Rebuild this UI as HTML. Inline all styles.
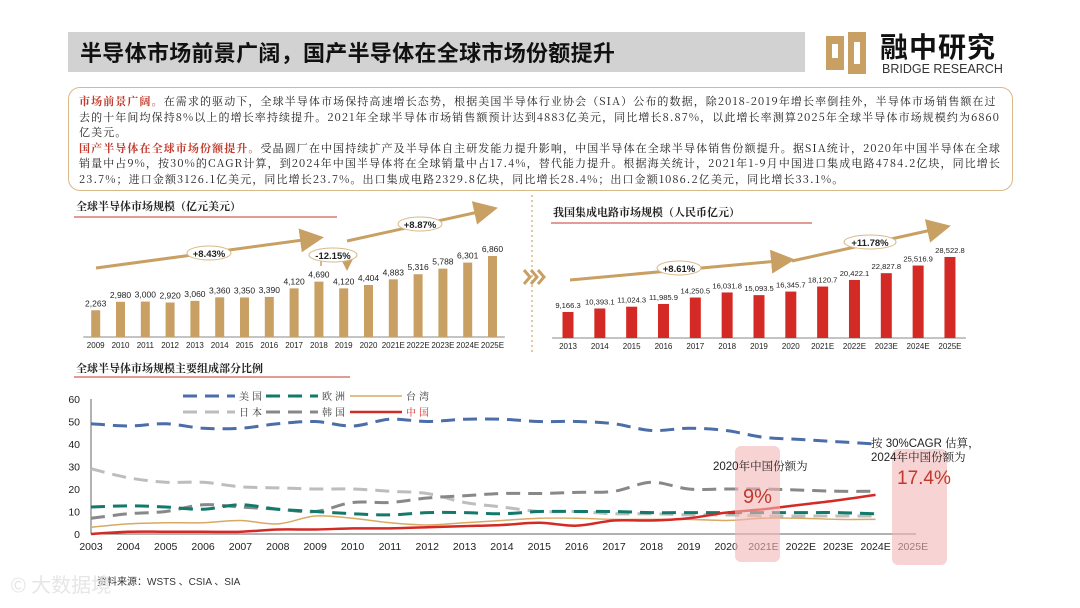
<!DOCTYPE html>
<html><head><meta charset="utf-8">
<style>
body{margin:0;width:1080px;height:608px;background:#fff;position:relative;overflow:hidden;font-family:"Liberation Sans","Noto Sans CJK SC",sans-serif;}
.abs{position:absolute;}
#titlebar{left:68px;top:32px;width:737px;height:40px;background:#d2d2d2;}
#titlebar span{position:absolute;left:12px;top:4px;font-size:22px;font-weight:bold;color:#111;font-family:"Noto Sans CJK SC",sans-serif;letter-spacing:0.3px;}
#textbox{left:68px;top:87px;width:945px;height:104px;border:1px solid #d8b98a;border-radius:12px;font-size:11px;letter-spacing:1.1px;line-height:15.6px;color:#222;font-family:"Noto Serif CJK SC","Noto Sans CJK SC",serif;padding:6px 8px 0 10px;box-sizing:border-box;}
#textbox b{color:#c0392b;}
</style></head><body>
<div id="titlebar" class="abs"><span>半导体市场前景广阔，国产半导体在全球市场份额提升</span></div>
<div class="abs" style="left:824px;top:30px;width:190px;height:48px;">
<svg width="46" height="46"><rect x="2" y="6" width="18" height="34" fill="#c9a063"/><rect x="24" y="2" width="18" height="42" fill="#c9a063"/><rect x="8" y="14" width="6" height="14" fill="#fff"/><rect x="30" y="12" width="6" height="22" fill="#fff"/></svg>
<div class="abs" style="left:56px;top:-4px;font-size:28px;font-weight:bold;color:#111;font-family:'Noto Sans CJK SC',sans-serif;letter-spacing:1px;">融中研究</div>
<div class="abs" style="left:58px;top:32px;font-size:12.5px;color:#333;">BRIDGE RESEARCH</div>
</div>
<div id="textbox" class="abs"><b>市场前景广阔。</b>在需求的驱动下，全球半导体市场保持高速增长态势，根据美国半导体行业协会（SIA）公布的数据，除2018-2019年增长率倒挂外，半导体市场销售额在过去的十年间均保持8%以上的增长率持续提升。2021年全球半导体市场销售额预计达到4883亿美元，同比增长8.87%，以此增长率测算2025年全球半导体市场规模约为6860亿美元。<br><b>国产半导体在全球市场份额提升。</b>受晶圆厂在中国持续扩产及半导体自主研发能力提升影响，中国半导体在全球半导体销售份额提升。据SIA统计，2020年中国半导体在全球销量中占9%，按30%的CAGR计算，到2024年中国半导体将在全球销量中占17.4%，替代能力提升。根据海关统计，2021年1-9月中国进口集成电路4784.2亿块，同比增长23.7%；进口金额3126.1亿美元，同比增长23.7%。出口集成电路2329.8亿块，同比增长28.4%；出口金额1086.2亿美元，同比增长33.1%。</div>

<svg class="abs" style="left:0;top:0" width="1080" height="608" id="charts">
<defs><marker id="ah" markerWidth="8" markerHeight="8" refX="6" refY="4" orient="auto"><path d="M0,0 L8,4 L0,8 z" fill="#c9a063"/></marker></defs>
<g font-family="Noto Serif CJK SC,serif" font-size="11" font-weight="bold" fill="#222">
<text x="76" y="210">全球半导体市场规模（亿元美元）</text>
<text x="553" y="216">我国集成电路市场规模（人民币亿元）</text>
<text x="76" y="372">全球半导体市场规模主要组成部分比例</text>
</g>
<line x1="74" y1="217" x2="337" y2="217" stroke="#c0392b" stroke-width="1"/>
<line x1="551" y1="223" x2="812" y2="223" stroke="#c0392b" stroke-width="1"/>
<line x1="74" y1="377" x2="350" y2="377" stroke="#c0392b" stroke-width="1"/>
<line x1="532" y1="195" x2="532" y2="352" stroke="#d8b98a" stroke-dasharray="2,3" stroke-width="1.5"/>
<g fill="none" stroke="#c9a063" stroke-width="3"><path d="M524,270 l6,7 -6,7 M531,270 l6,7 -6,7 M538,270 l6,7 -6,7"/></g>
<g id="leftBars"></g><g id="rightBars"></g><g id="lineChart"></g>
<g stroke="#c9a063" stroke-width="3" fill="none">
<line x1="96" y1="268" x2="318" y2="238" marker-end="url(#ah)"/>
<line x1="347" y1="241" x2="492" y2="209" marker-end="url(#ah)"/>
<line x1="570" y1="280" x2="789" y2="260" marker-end="url(#ah)"/>
<line x1="792" y1="261" x2="945" y2="227" marker-end="url(#ah)"/>
</g>
<g stroke="#c9a063" stroke-width="1.5" fill="none"><line x1="321" y1="260" x2="321" y2="266"/><line x1="347" y1="260" x2="347" y2="268" marker-end="url(#ah)"/></g>
<g font-size="9.5" font-weight="bold" text-anchor="middle" fill="#222">
<ellipse cx="209" cy="253" rx="22" ry="7" fill="#fff" stroke="#d8b98a"/><text x="209" y="257">+8.43%</text>
<ellipse cx="420" cy="224" rx="22" ry="7" fill="#fff" stroke="#d8b98a"/><text x="420" y="228">+8.87%</text>
<ellipse cx="333" cy="255" rx="24" ry="7" fill="#fff" stroke="#d8b98a"/><text x="333" y="259">-12.15%</text>
<ellipse cx="679" cy="268" rx="22" ry="7" fill="#fff" stroke="#d8b98a"/><text x="679" y="272">+8.61%</text>
<ellipse cx="870" cy="242" rx="26" ry="7" fill="#fff" stroke="#d8b98a"/><text x="870" y="246">+11.78%</text>
</g>
<rect x="735" y="446" width="45" height="116" rx="6" fill="#f4b6b6" opacity="0.6"/>
<rect x="892" y="449" width="55" height="116" rx="6" fill="#f4b6b6" opacity="0.6"/>
<g font-family="Liberation Sans,Noto Serif CJK SC,serif" font-size="11.5" fill="#222">
<text x="713" y="470">2020年中国份额为</text>
<text x="871" y="447">按 30%CAGR 估算，</text>
<text x="871" y="461">2024年中国份额为</text>
</g>
<text x="743" y="503" font-size="20" fill="#c0392b">9%</text>
<text x="897" y="484" font-size="19" fill="#c0392b">17.4%</text>
<text x="97" y="585" font-size="10" fill="#333" font-family="Liberation Sans,Noto Sans CJK SC,sans-serif">资料来源：WSTS 、CSIA 、SIA</text>
<text x="10" y="592" font-size="20" fill="#e6e6e6" font-family="Noto Sans CJK SC,sans-serif">© 大数据境</text>
</svg>

<script>
const leftYears=["2009","2010","2011","2012","2013","2014","2015","2016","2017","2018","2019","2020","2021E","2022E","2023E","2024E","2025E"];
const leftVals=[2263,2980,3000,2920,3060,3360,3350,3390,4120,4690,4120,4404,4883,5316,5788,6301,6860];
const rightYears=["2013","2014","2015","2016","2017","2018","2019","2020","2021E","2022E","2023E","2024E","2025E"];
const rightVals=[9166.3,10393.1,11024.3,11985.9,14250.5,16031.8,15093.5,16345.7,18120.7,20422.1,22827.8,25516.9,28522.8];
const shareYears=["2003","2004","2005","2006","2007","2008","2009","2010","2011","2012","2013","2014","2015","2016","2017","2018","2019","2020","2021E","2022E","2023E","2024E","2025E"];
const usShare=[49,48,49,47,47,49,50,48,51,50,51,51,50,50,49,46,47,46,43,42,41,40];
const euShare=[12,12.5,12,11,13,11,10,9,8.5,9.5,9.5,9,10,10,10,9.5,9.5,9.5,9.5,9.5,9.5,9];
const twShare=[3,4.5,5,5,6,4.5,8,7,5,4,5,6,7,7,6.5,6.5,6.5,6,7,7,6.5,6.5];
const jpShare=[29,25,23,23,21,20.5,20,20,19,18,14,12,10,10,9,9,8.5,8.5,8,8,8,8];
const krShare=[7,9,10,13,12,11,10,14,14,16,17,18,18,18.5,19,23,20,20,20,19.5,19,19];
const cnShare=[0,1,1,1,1,2,2,2.5,2.5,3,3.5,4,5,3.7,6,6,7,9.5,11,13,15,17.4];
const yTicks=[0,10,20,30,40,50,60];
const NS="http://www.w3.org/2000/svg";
function mk(tag,attrs,parent){const e=document.createElementNS(NS,tag);for(const k in attrs)e.setAttribute(k,attrs[k]);parent.appendChild(e);return e;}

function barChart(g,cats,vals,x0,step,base,h,maxV,color,bw,fmt,prefix,fs){
  const y=v=>base-v/maxV*h;
  const x=i=>x0+i*step;
  mk('line',{x1:x0-step/2,y1:base,x2:x(cats.length-1)+step/2,y2:base,stroke:'#888','stroke-width':1},g);
  cats.forEach((c,i)=>{
    const r=mk('rect',{x:x(i)-bw/2,y:y(vals[i]),width:bw,height:base-y(vals[i]),fill:color},g);
    
    
    const t=mk('text',{x:x(i),y:y(vals[i])-4,'text-anchor':'middle','font-size':fs,fill:'#222'},g);
    t.textContent=fmt(vals[i]);
    
    
    const l=mk('text',{x:x(i),y:base+11,'text-anchor':'middle','font-size':8,fill:'#222'},g);
    l.textContent=c;
    
    
  });
}
barChart(document.getElementById('leftBars'),leftYears,leftVals,95.7,24.8,337,81,6860,'#c9a063',9,v=>v.toLocaleString('en-US'),'global',8.5);
barChart(document.getElementById('rightBars'),rightYears,rightVals,568,31.83,338,81,28522.8,'#d42a25',11,v=>v.toLocaleString('en-US',{minimumFractionDigits:1,maximumFractionDigits:1}),'china-ic',7.6);

(function(){
  const g=document.getElementById('lineChart');
  const X0=91,STEP=37.36,Y0=534,PX=2.25;
  const x=i=>X0+i*STEP, y=v=>Y0-v*PX;
  mk('line',{x1:X0,y1:399,x2:X0,y2:Y0,stroke:'#666'},g);
  mk('line',{x1:X0,y1:Y0,x2:916,y2:Y0,stroke:'#666'},g);
  yTicks.forEach(v=>{
    const t=mk('text',{x:80,y:y(v)+4,'text-anchor':'end','font-size':10.5,fill:'#222'},g);
    t.textContent=v;
    
    
  });
  shareYears.forEach((c,i)=>{
    const t=mk('text',{x:x(i),y:550,'text-anchor':'middle','font-size':10.5,fill:'#222'},g);
    t.textContent=c;
    
    
  });
  function smooth(vals){
    let d='M'+x(0)+','+y(vals[0]);
    for(let i=0;i<vals.length-1;i++){
      const p0=[x(Math.max(i-1,0)),y(vals[Math.max(i-1,0)])],p1=[x(i),y(vals[i])],p2=[x(i+1),y(vals[i+1])],p3=[x(Math.min(i+2,vals.length-1)),y(vals[Math.min(i+2,vals.length-1)])];
      const c1=[p1[0]+(p2[0]-p0[0])/6,p1[1]+(p2[1]-p0[1])/6],c2=[p2[0]-(p3[0]-p1[0])/6,p2[1]-(p3[1]-p1[1])/6];
      d+=' C'+c1+' '+c2+' '+p2;
    }
    return d;
  }
  const series=[
    ['japan',jpShare,'#bdbdbd',3,'14,8','日本'],
    ['korea',krShare,'#888888',3,'14,8','韩国'],
    ['taiwan',twShare,'#d9a862',1.5,'','台湾'],
    ['europe',euShare,'#127a6a',3,'14,8','欧洲'],
    ['us',usShare,'#4b6ea8',3,'14,8','美国'],
    ['china',cnShare,'#d42a25',2.5,'','中国']];
  series.forEach(s=>{
    const p=mk('path',{d:smooth(s[1]),fill:'none',stroke:s[2],'stroke-width':s[3],'stroke-dasharray':s[4]},g);
    
    
  });
  const leg=[['us',183,396],['europe',266,396],['taiwan',350,396],['japan',183,412],['korea',266,412],['china',350,412]];
  leg.forEach(L=>{
    const s=series.find(q=>q[0]===L[0]);
    const ln=mk('line',{x1:L[1],y1:L[2],x2:L[1]+52,y2:L[2],stroke:s[2],'stroke-width':s[3],'stroke-dasharray':s[4]?'14,8':''},g);
    
    
    const t=mk('text',{x:L[1]+56,y:L[2]+4,'font-size':10,fill:L[0]==='china'?'#d42a25':'#333','font-family':'Noto Serif CJK SC,serif','letter-spacing':'3'},g);
    t.textContent=s[5];
    
    
  });
})();
</script>
</body></html>
